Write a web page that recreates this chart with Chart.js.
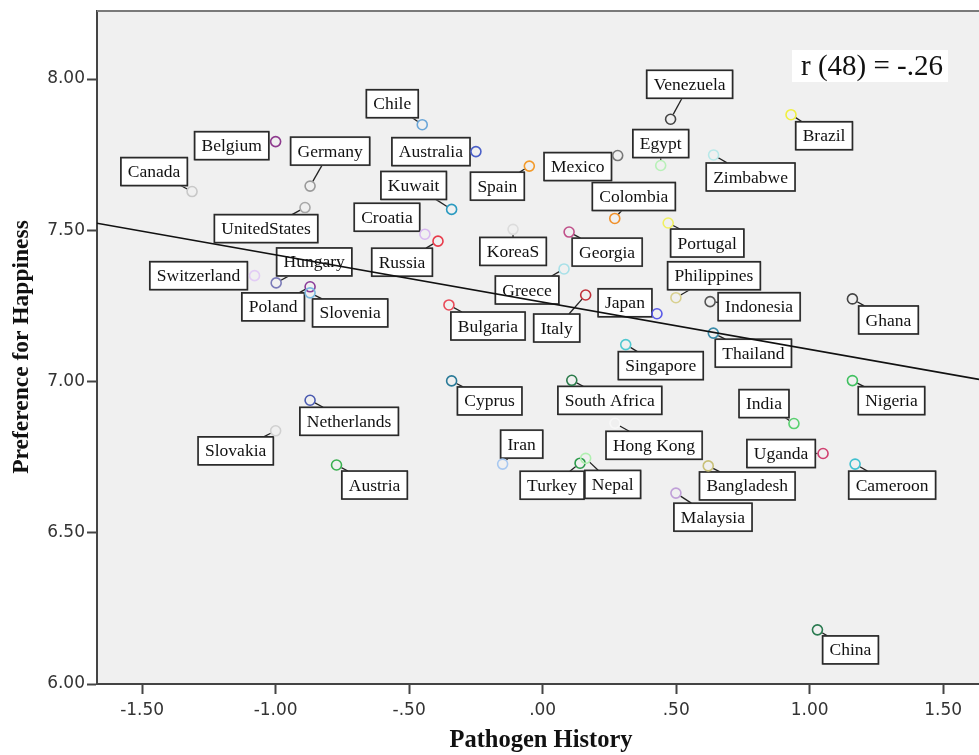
<!DOCTYPE html>
<html><head><meta charset="utf-8">
<script src="https://cdn.jsdelivr.net/npm/chart.js@4"></script>
<style>html,body{margin:0;padding:0;background:#fff;overflow:hidden}#wrap{width:979px;height:755px}</style>
</head><body><div id="wrap"><canvas id="c" width="979" height="755"></canvas></div>
<script>
const countries = ["Canada","Belgium","Germany","UnitedStates","Chile","Australia","Kuwait","Spain","Croatia","Russia","KoreaS","Switzerland","Hungary","Poland","Slovenia","Bulgaria","Greece","Italy","Japan","Georgia","Colombia","Portugal","Philippines","Indonesia","Thailand","Singapore","Cyprus","South Africa","Venezuela","Brazil","Mexico","Egypt","Zimbabwe","Ghana","Netherlands","Slovakia","Austria","Iran","Turkey","Nepal","Hong Kong","Bangladesh","Malaysia","India","Uganda","Nigeria","Cameroon","China"];
const pathogen = [-1.313,-1.000,-0.871,-0.890,-0.451,-0.250,-0.341,-0.050,-0.441,-0.392,-0.111,-1.079,-0.998,-0.871,-0.871,-0.351,0.080,0.161,0.428,0.099,0.270,0.470,0.499,0.627,0.639,0.311,-0.341,0.109,0.479,0.930,0.281,0.442,0.640,1.160,-0.871,-1.000,-0.772,-0.150,0.140,0.161,0.271,0.620,0.499,0.941,1.050,1.160,1.170,1.029];
const happiness = [7.628,7.793,7.646,7.575,7.849,7.760,7.569,7.712,7.487,7.464,7.503,7.350,7.326,7.313,7.293,7.253,7.372,7.286,7.224,7.494,7.539,7.524,7.277,7.264,7.160,7.122,7.002,7.004,7.867,7.882,7.747,7.714,7.749,7.273,6.938,6.837,6.724,6.727,6.730,6.746,6.862,6.721,6.631,6.861,6.762,7.003,6.727,6.179];
const xTicks = [-1.5,-1.0,-0.5,0,0.5,1.0,1.5];
const yTicks = [6.0,6.5,7.0,7.5,8.0];
const fitX = [-1.669, 1.634];
const fitY = [7.523, 7.007];
const corrText = "r (48) = -.26";

// styles (not data)
const pointColors = ["#c8c8c8","#8e3a8e","#9a9a9a","#a8a8a8","#6aa6d8","#4a5fc8","#2a9ac0","#f39a2a","#d8b8f0","#e83a4a","#dcdcdc","#e2ccf5","#7a7ab8","#8a3a98","#7ab8e0","#e84a58","#a8e0e8","#c0303a","#5a5ae8","#c0508a","#f0902a","#f0f060","#d8d090","#555555","#3a8aa8","#50c8d0","#2a7a98","#2a7a4a","#444444","#f0f040","#777777","#b8f0b8","#b8e8e8","#444444","#4a5ab0","#d0d0d0","#3ab050","#a8c8f0","#2a9a4a","#b0f0b0","#f8f8f8","#c8c078","#c0a0d8","#5ad070","#d04070","#40c060","#40c0d0","#2a7a50"];
const labelOffsets = [[-38,-20],[-44,4],[20,-35],[-39,21],[-30,-21],[-45,0],[-38,-24],[-32,20],[-38,-17],[-36,21],[0,22],[-56,0],[38,-21],[-37,20],[40,20],[39,21],[-37,21],[-29,33],[-32,-11],[38,20],[19,-22],[39,20],[38,-22],[49,5],[40,20],[35,21],[38,20],[38,20],[19,-35],[33,21],[-40,11],[0,-22],[37,22],[36,21],[39,21],[-40,20],[38,20],[19,-20],[-28,22],[27,26],[39,22],[39,20],[37,24],[-30,-20],[-42,0],[39,20],[37,21],[33,20]];

function fmt(v){
  let s = Math.abs(v).toFixed(2);
  if (s.startsWith('0')) s = s.slice(1);
  return (v < 0 ? '-' : '') + s;
}

const bgPlugin = {
  id: 'bg',
  beforeDraw(chart){
    const {ctx, chartArea:a} = chart;
    ctx.save();
    ctx.fillStyle = '#f0f0f0';
    ctx.fillRect(a.left, a.top, a.right - a.left, a.bottom - a.top);
    ctx.restore();
  },
  afterDraw(chart){
    const {ctx, chartArea:a} = chart;
    ctx.save();
    ctx.strokeStyle = '#7a7a7a';
    ctx.lineWidth = 2;
    ctx.beginPath();
    ctx.moveTo(a.left, a.top); ctx.lineTo(a.right, a.top);
    ctx.stroke();
    // correlation annotation
    ctx.fillStyle = '#ffffff';
    ctx.fillRect(a.right - 187, a.top + 39, 156, 32);
    ctx.fillStyle = '#111';
    ctx.font = '29px "Liberation Serif"';
    ctx.textAlign = 'center';
    ctx.textBaseline = 'alphabetic';
    ctx.fillText(corrText, a.right - 107, a.top + 64);
    // axis titles
    ctx.font = 'bold 24.5px "Liberation Serif"';
    ctx.fillText('Pathogen History', 541, 747);
    ctx.font = 'bold 23.5px "Liberation Serif"';
    ctx.translate(28, 347);
    ctx.rotate(-Math.PI/2);
    ctx.fillText('Preference for Happiness', 0, 0);
    ctx.restore();
  }
};

const labelPlugin = {
  id: 'labels',
  beforeDatasetsDraw(chart){
    const ctx = chart.ctx;
    const meta = chart.getDatasetMeta(1);
    ctx.save();
    ctx.font = '17.5px "Liberation Serif"';
    meta.data.forEach((el, i) => {
      const px = el.x, py = el.y;
      const [dx, dy] = labelOffsets[i];
      const txt = countries[i];
      const w = ctx.measureText(txt).width + 14, h = 28;
      const cx = px + dx, cy = py + dy;
      const x0 = cx - w/2, x1 = cx + w/2, y0 = cy - h/2, y1 = cy + h/2;
      const vx = cx - px, vy = cy - py;
      let tx = 0, ty = 0;
      if (vx !== 0) tx = ((vx > 0 ? x0 : x1) - px) / vx; else tx = (px >= x0 && px <= x1) ? 0 : Infinity;
      if (vy !== 0) ty = ((vy > 0 ? y0 : y1) - py) / vy; else ty = (py >= y0 && py <= y1) ? 0 : Infinity;
      const t = Math.max(tx, ty, 0);
      const qx = px + vx*t, qy = py + vy*t;
      const d = Math.hypot(qx - px, qy - py);
      const r = 5.5;
      if (d > r + 2) {
        ctx.strokeStyle = '#222';
        ctx.lineWidth = 1.3;
        ctx.beginPath();
        ctx.moveTo(px + (qx-px)/d*r, py + (qy-py)/d*r);
        ctx.lineTo(qx, qy);
        ctx.stroke();
      }
      ctx.fillStyle = '#ffffff';
      ctx.fillRect(x0, y0, w, h);
      ctx.strokeStyle = '#9a9a9a';
      ctx.lineWidth = 1;
      ctx.strokeRect(x0 + 0.5, y0 + 0.5, w, h);
      ctx.strokeStyle = '#2a2a2a';
      ctx.lineWidth = 1.6;
      ctx.strokeRect(x0, y0, w, h);
      ctx.fillStyle = '#111';
      ctx.textAlign = 'center';
      ctx.textBaseline = 'middle';
      ctx.fillText(txt, cx, cy + 1);
    });
    ctx.restore();
  }
};

const pts = pathogen.map((x, i) => ({x, y: happiness[i]}));
const fitPts = fitX.map((x, i) => ({x, y: fitY[i]}));

new Chart(document.getElementById('c'), {
  type: 'scatter',
  data: {
    datasets: [
      { type: 'line', data: fitPts, borderColor: '#111', borderWidth: 1.6, pointRadius: 0, fill: false, order: 0, tension: 0 },
      { type: 'scatter', data: pts, pointRadius: 5, pointHoverRadius: 5, borderWidth: 1.6,
        borderColor: pointColors, backgroundColor: 'rgba(0,0,0,0)', pointBackgroundColor: 'rgba(0,0,0,0)', pointBorderColor: pointColors, order: 1 }
    ]
  },
  options: {
    responsive: false,
    animation: false,
    devicePixelRatio: 1,
    layout: { autoPadding: false, padding: { top: 11, left: 0, right: 0, bottom: 0 } },
    plugins: { legend: { display: false }, tooltip: { enabled: false } },
    scales: {
      x: {
        type: 'linear', min: -1.669, max: 1.634,
        afterBuildTicks: s => { s.ticks = xTicks.map(v => ({value: v})); },
        afterFit: s => { s.height = 71; s.paddingLeft = 0; s.paddingRight = 0; },
        ticks: { callback: v => fmt(v), font: { family: 'DejaVu Sans', size: 17 }, color: '#333', padding: 6, autoSkip: false, maxRotation: 0 },
        grid: { drawOnChartArea: false, drawTicks: true, tickLength: 10, color: '#444', tickWidth: 2 },
        border: { color: '#444', width: 2 }
      },
      y: {
        type: 'linear', min: 6.0, max: 8.2248,
        afterBuildTicks: s => { s.ticks = yTicks.map(v => ({value: v})); },
        afterFit: s => { s.width = 97; s.paddingTop = 0; s.paddingBottom = 0; },
        ticks: { callback: v => fmt(v), font: { family: 'DejaVu Sans', size: 17 }, color: '#333', padding: 2 },
        grid: { drawOnChartArea: false, drawTicks: true, tickLength: 10, color: '#444', tickWidth: 2 },
        border: { color: '#444', width: 2 }
      }
    }
  },
  plugins: [bgPlugin, labelPlugin]
});
</script>
</body></html>
